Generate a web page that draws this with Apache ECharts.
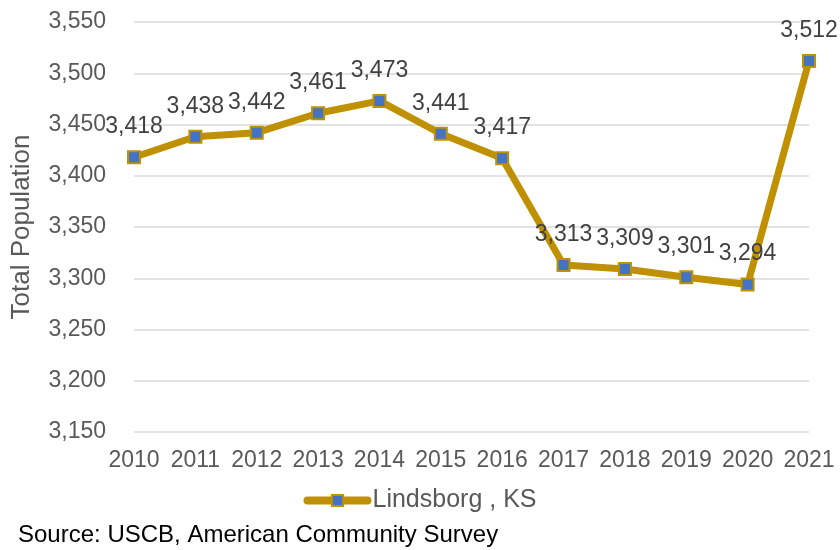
<!DOCTYPE html>
<html>
<head>
<meta charset="utf-8">
<script src="https://cdn.jsdelivr.net/npm/echarts@6/dist/echarts.min.js"></script>
<style>
  html, body { margin: 0; padding: 0; background: #fff; }
  #main { width: 840px; height: 550px; }
</style>
</head>
<body>
<div id="main"></div>
<script>
// data
var years = ["2010", "2011", "2012", "2013", "2014", "2015", "2016", "2017", "2018", "2019", "2020", "2021"];
var population = [3418, 3438, 3442, 3461, 3473, 3441, 3417, 3313, 3309, 3301, 3294, 3512];
var seriesName = "Lindsborg , KS";

var chartDom = document.getElementById("main");
var myChart = echarts.init(chartDom);
var font = "Liberation Sans, Arial, sans-serif";

var option = {
  animation: false,
  textStyle: { fontFamily: font },
  grid: { left: 134, right: 31, top: 22, bottom: 118, outerBoundsMode: "none", containLabel: false },
  xAxis: {
    type: "category",
    data: years,
    boundaryGap: false,
    axisLine: { show: false },
    axisTick: { show: false },
    axisLabel: { color: "#595959", fontSize: 23, margin: 17, interval: 0 }
  },
  yAxis: {
    type: "value",
    min: 3150,
    max: 3550,
    interval: 50,
    name: "Total Population",
    nameLocation: "middle",
    nameGap: 99,
    nameTextStyle: { color: "#595959", fontSize: 26 },
    axisLine: { show: false },
    axisTick: { show: false },
    axisLabel: {
      color: "#595959",
      fontSize: 23,
      margin: 28,
      formatter: function (v) { return echarts.format.addCommas(v); }
    },
    splitLine: { lineStyle: { color: "#d9d9d9", width: 1.5 } }
  },
  legend: {
    bottom: 32,
    left: "center",
    itemWidth: 60,
    itemHeight: 14,
    itemGap: 4,
    textStyle: { color: "#595959", fontSize: 25 },
    lineStyle: { width: 8, cap: "round" },
    data: [seriesName]
  },
  graphic: [
    {
      type: "text",
      x: 18,
      y: 535,
      style: {
        text: "Source: USCB, American Community Survey",
        fill: "#000",
        fontSize: 24,
        fontFamily: font,
        verticalAlign: "middle"
      }
    }
  ],
  series: [
    {
      name: seriesName,
      type: "line",
      data: population,
      symbol: "rect",
      symbolSize: 12,
      lineStyle: { color: "#BF9000", width: 7 },
      itemStyle: { color: "#4472C4", borderColor: "#BF9000", borderWidth: 2 },
      label: {
        show: true,
        position: "top",
        distance: 12,
        color: "#404040",
        fontSize: 23,
        formatter: function (p) { return echarts.format.addCommas(p.value); }
      }
    }
  ]
};

option && myChart.setOption(option);
</script>
</body>
</html>
